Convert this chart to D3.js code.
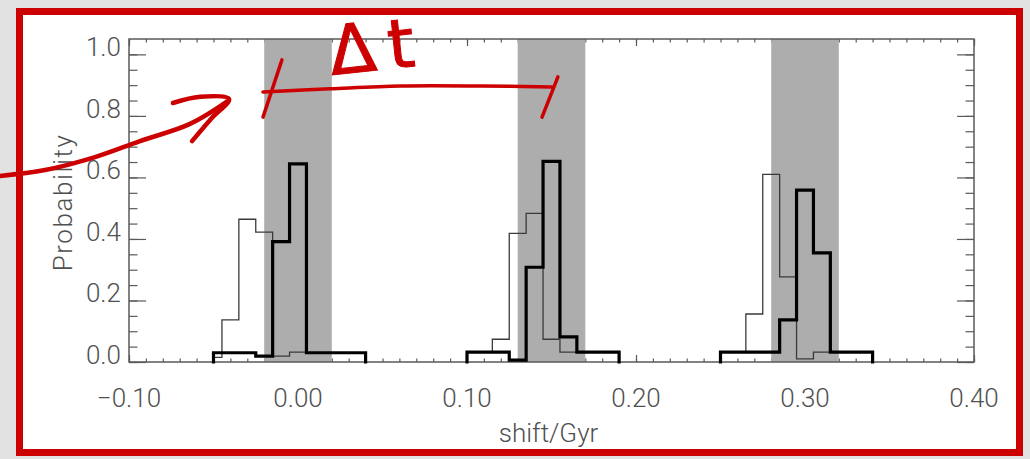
<!DOCTYPE html>
<html>
<head>
<meta charset="utf-8">
<script src="https://cdn.jsdelivr.net/npm/d3@7"></script>
<style>
  html, body { margin: 0; padding: 0; background: #e2e2e2; }
  svg { display: block; }
</style>
</head>
<body>
<svg id="chart" width="1030" height="459"></svg>
<script>
// ---- axis ticks and labels ----
const xMajorTicks = [-0.10, 0.00, 0.10, 0.20, 0.30, 0.40];
const xTickLabels = ["\u22120.10", "0.00", "0.10", "0.20", "0.30", "0.40"];
const yMajorTicks = [0.0, 0.2, 0.4, 0.6, 0.8, 1.0];
const yTickLabels = ["0.0", "0.2", "0.4", "0.6", "0.8", "1.0"];
const xTitle = "shift/Gyr";
const yTitle = "Probability";

// ---- shaded windows (Gyr) ----
const bandStart = [-0.02, 0.13, 0.28];
const bandEnd   = [ 0.02, 0.17, 0.32];

// ---- histograms: bin edges (Gyr) and probabilities ----
// thin outline
const thinEdges1 = [-0.05, -0.045, -0.035, -0.025, -0.015, -0.005, 0.005, 0.04];
const thinProb1  = [0.015, 0.137, 0.464, 0.422, 0.019, 0.032, 0.030];
const thinEdges2 = [0.10, 0.115, 0.125, 0.135, 0.145, 0.155, 0.165, 0.19];
const thinProb2  = [0.032, 0.074, 0.418, 0.483, 0.074, 0.032, 0.032];
const thinEdges3 = [0.25, 0.265, 0.275, 0.285, 0.295, 0.305, 0.34];
const thinProb3  = [0.032, 0.156, 0.610, 0.277, 0.010, 0.032];
// thick outline
const thickEdges1 = [-0.05, -0.025, -0.015, -0.005, 0.005, 0.04];
const thickProb1  = [0.030, 0.019, 0.391, 0.644, 0.030];
const thickEdges2 = [0.10, 0.125, 0.135, 0.145, 0.155, 0.165, 0.19];
const thickProb2  = [0.032, 0.006, 0.308, 0.652, 0.082, 0.032];
const thickEdges3 = [0.25, 0.285, 0.295, 0.305, 0.315, 0.34];
const thickProb3  = [0.032, 0.137, 0.559, 0.355, 0.032];

// ---- hand-drawn annotation strokes, in axis units (shift, probability) ----
const arrowBody = [[-0.1763, 0.605], [-0.1497, 0.624], [-0.1201, 0.666], [-0.0935, 0.718], [-0.0639, 0.774], [-0.0414, 0.849]];
const arrowHead = [[-0.0740, 0.842], [-0.0580, 0.862], [-0.0408, 0.855], [-0.0510, 0.793], [-0.0627, 0.718]];
const spanLine  = [[-0.0207, 0.878], [0.0190, 0.888], [0.0604, 0.897], [0.1080, 0.897], [0.1503, 0.894]];
const spanLeft  = [[-0.0095, 0.982], [-0.0207, 0.796]];
const spanRight = [[0.1538, 0.927], [0.1444, 0.796]];
const spanLabel = "\u0394t";
const spanLabelAt = [0.0200, 0.933];

// ---- layout ----
const svg = d3.select("#chart");
const plot = { left: 129, right: 974, top: 39, bottom: 362 };
const x = d3.scaleLinear().domain([-0.1, 0.4]).range([plot.left, plot.right]);
const y = d3.scaleLinear().domain([0, 1.05]).range([plot.bottom, plot.top]);

const axisColor = "#5a5a5a";
const textColor = "#505050";
const red = "#cc0000";

// card with red border
svg.append("rect")
  .attr("x", 19.5).attr("y", 11.5).attr("width", 1000).attr("height", 441)
  .attr("fill", "#fff").attr("stroke", red).attr("stroke-width", 7);

// ---- ticks (drawn first; shaded windows cover them) ----
const xMinor = d3.range(-100, 401, 10).map(d => d / 1000);
const yMinor = d3.range(0, 21).map(d => d * 0.05);

function styleAxis(g) {
  g.select(".domain").remove();
  g.selectAll("line").attr("stroke", axisColor).attr("stroke-width", 1.2);
  g.selectAll("text").remove();
}

const axes = svg.append("g");
axes.append("g").attr("transform", `translate(0,${plot.bottom})`)
  .call(d3.axisBottom(x).tickValues(xMinor).tickSize(-3.5)).call(styleAxis);
axes.append("g").attr("transform", `translate(0,${plot.bottom})`)
  .call(d3.axisBottom(x).tickValues(xMajorTicks).tickSize(-7)).call(styleAxis);
axes.append("g").attr("transform", `translate(0,${plot.top})`)
  .call(d3.axisTop(x).tickValues(xMinor).tickSize(-3.5)).call(styleAxis);
axes.append("g").attr("transform", `translate(0,${plot.top})`)
  .call(d3.axisTop(x).tickValues(xMajorTicks).tickSize(-7)).call(styleAxis);
axes.append("g").attr("transform", `translate(${plot.left},0)`)
  .call(d3.axisLeft(y).tickValues(yMinor).tickSize(-8.5)).call(styleAxis);
axes.append("g").attr("transform", `translate(${plot.left},0)`)
  .call(d3.axisLeft(y).tickValues(yMajorTicks).tickSize(-17)).call(styleAxis);
axes.append("g").attr("transform", `translate(${plot.right},0)`)
  .call(d3.axisRight(y).tickValues(yMinor).tickSize(-8.5)).call(styleAxis);
axes.append("g").attr("transform", `translate(${plot.right},0)`)
  .call(d3.axisRight(y).tickValues(yMajorTicks).tickSize(-17)).call(styleAxis);

// ---- shaded windows ----
svg.append("g").selectAll("rect")
  .data(d3.zip(bandStart, bandEnd))
  .join("rect")
  .attr("x", d => x(d[0]))
  .attr("width", d => x(d[1]) - x(d[0]))
  .attr("y", plot.top)
  .attr("height", plot.bottom - plot.top)
  .attr("fill", "#adadad");

// ---- frame ----
svg.append("rect")
  .attr("x", plot.left).attr("y", plot.top)
  .attr("width", plot.right - plot.left).attr("height", plot.bottom - plot.top)
  .attr("fill", "none").attr("stroke", axisColor).attr("stroke-width", 1.5);

// ---- histograms ----
function stepPoints(edges, probs) {
  const pts = [[edges[0], 0]];
  probs.forEach((p, i) => { pts.push([edges[i], p]); pts.push([edges[i + 1], p]); });
  pts.push([edges[edges.length - 1], 0]);
  return pts;
}
const stepLine = d3.line().x(d => x(d[0])).y(d => y(d[1]));

const thinSets = [[thinEdges1, thinProb1], [thinEdges2, thinProb2], [thinEdges3, thinProb3]];
const thickSets = [[thickEdges1, thickProb1], [thickEdges2, thickProb2], [thickEdges3, thickProb3]];

svg.append("g").selectAll("path")
  .data(thinSets)
  .join("path")
  .attr("d", d => stepLine(stepPoints(d[0], d[1])))
  .attr("fill", "none").attr("stroke", "#3a3a3a").attr("stroke-width", 1.3)
  .attr("stroke-linejoin", "miter");

svg.append("g").selectAll("path")
  .data(thickSets)
  .join("path")
  .attr("d", d => stepLine(stepPoints(d[0], d[1])))
  .attr("fill", "none").attr("stroke", "#000").attr("stroke-width", 3.2)
  .attr("stroke-linejoin", "miter").attr("stroke-linecap", "square");

// ---- tick labels and titles ----
const font = "Roboto, 'Liberation Sans', sans-serif";
const fontSize = 26;
svg.append("g").selectAll("text")
  .data(xMajorTicks)
  .join("text")
  .attr("x", d => x(d)).attr("y", 407)
  .attr("text-anchor", "middle")
  .attr("font-family", font).attr("font-weight", 300).attr("font-size", fontSize)
  .attr("fill", textColor)
  .text((d, i) => xTickLabels[i]);

svg.append("g").selectAll("text")
  .data(yMajorTicks)
  .join("text")
  .attr("x", 121).attr("y", d => y(d) + 2)
  .attr("text-anchor", "end")
  .attr("font-family", font).attr("font-weight", 300).attr("font-size", fontSize)
  .attr("fill", textColor)
  .text((d, i) => yTickLabels[i]);

svg.append("text")
  .attr("x", (plot.left + plot.right) / 2 - 3).attr("y", 442)
  .attr("text-anchor", "middle")
  .attr("font-family", font).attr("font-weight", 300).attr("font-size", fontSize)
  .attr("fill", textColor)
  .text(xTitle);

svg.append("text")
  .attr("transform", `translate(72,${(plot.top + plot.bottom) / 2 + 2}) rotate(-90)`)
  .attr("text-anchor", "middle")
  .attr("font-family", font).attr("font-weight", 300).attr("font-size", fontSize)
  .attr("letter-spacing", 1.6)
  .attr("fill", textColor)
  .text(yTitle);

// ---- red hand annotations ----
const pen = d3.line().x(d => x(d[0])).y(d => y(d[1])).curve(d3.curveCatmullRom);
const ink = svg.append("g")
  .attr("fill", "none").attr("stroke", red)
  .attr("stroke-linecap", "round").attr("stroke-linejoin", "round");
ink.append("path").attr("d", pen(arrowBody)).attr("stroke-width", 4.5);
ink.append("path").attr("d", pen(arrowHead)).attr("stroke-width", 4.5);
ink.append("path").attr("d", pen(spanLine)).attr("stroke-width", 3.5);
ink.append("path").attr("d", pen(spanLeft)).attr("stroke-width", 3.5);
ink.append("path").attr("d", pen(spanRight)).attr("stroke-width", 3.5);

svg.append("text")
  .attr("transform", `translate(${x(spanLabelAt[0])},${y(spanLabelAt[1])}) rotate(-6)`)
  .attr("font-family", "'DejaVu Sans', sans-serif").attr("font-size", 68)
  .attr("letter-spacing", 12)
  .attr("fill", red).attr("stroke", red).attr("stroke-width", 1)
  .text(spanLabel);
</script>
</body>
</html>
